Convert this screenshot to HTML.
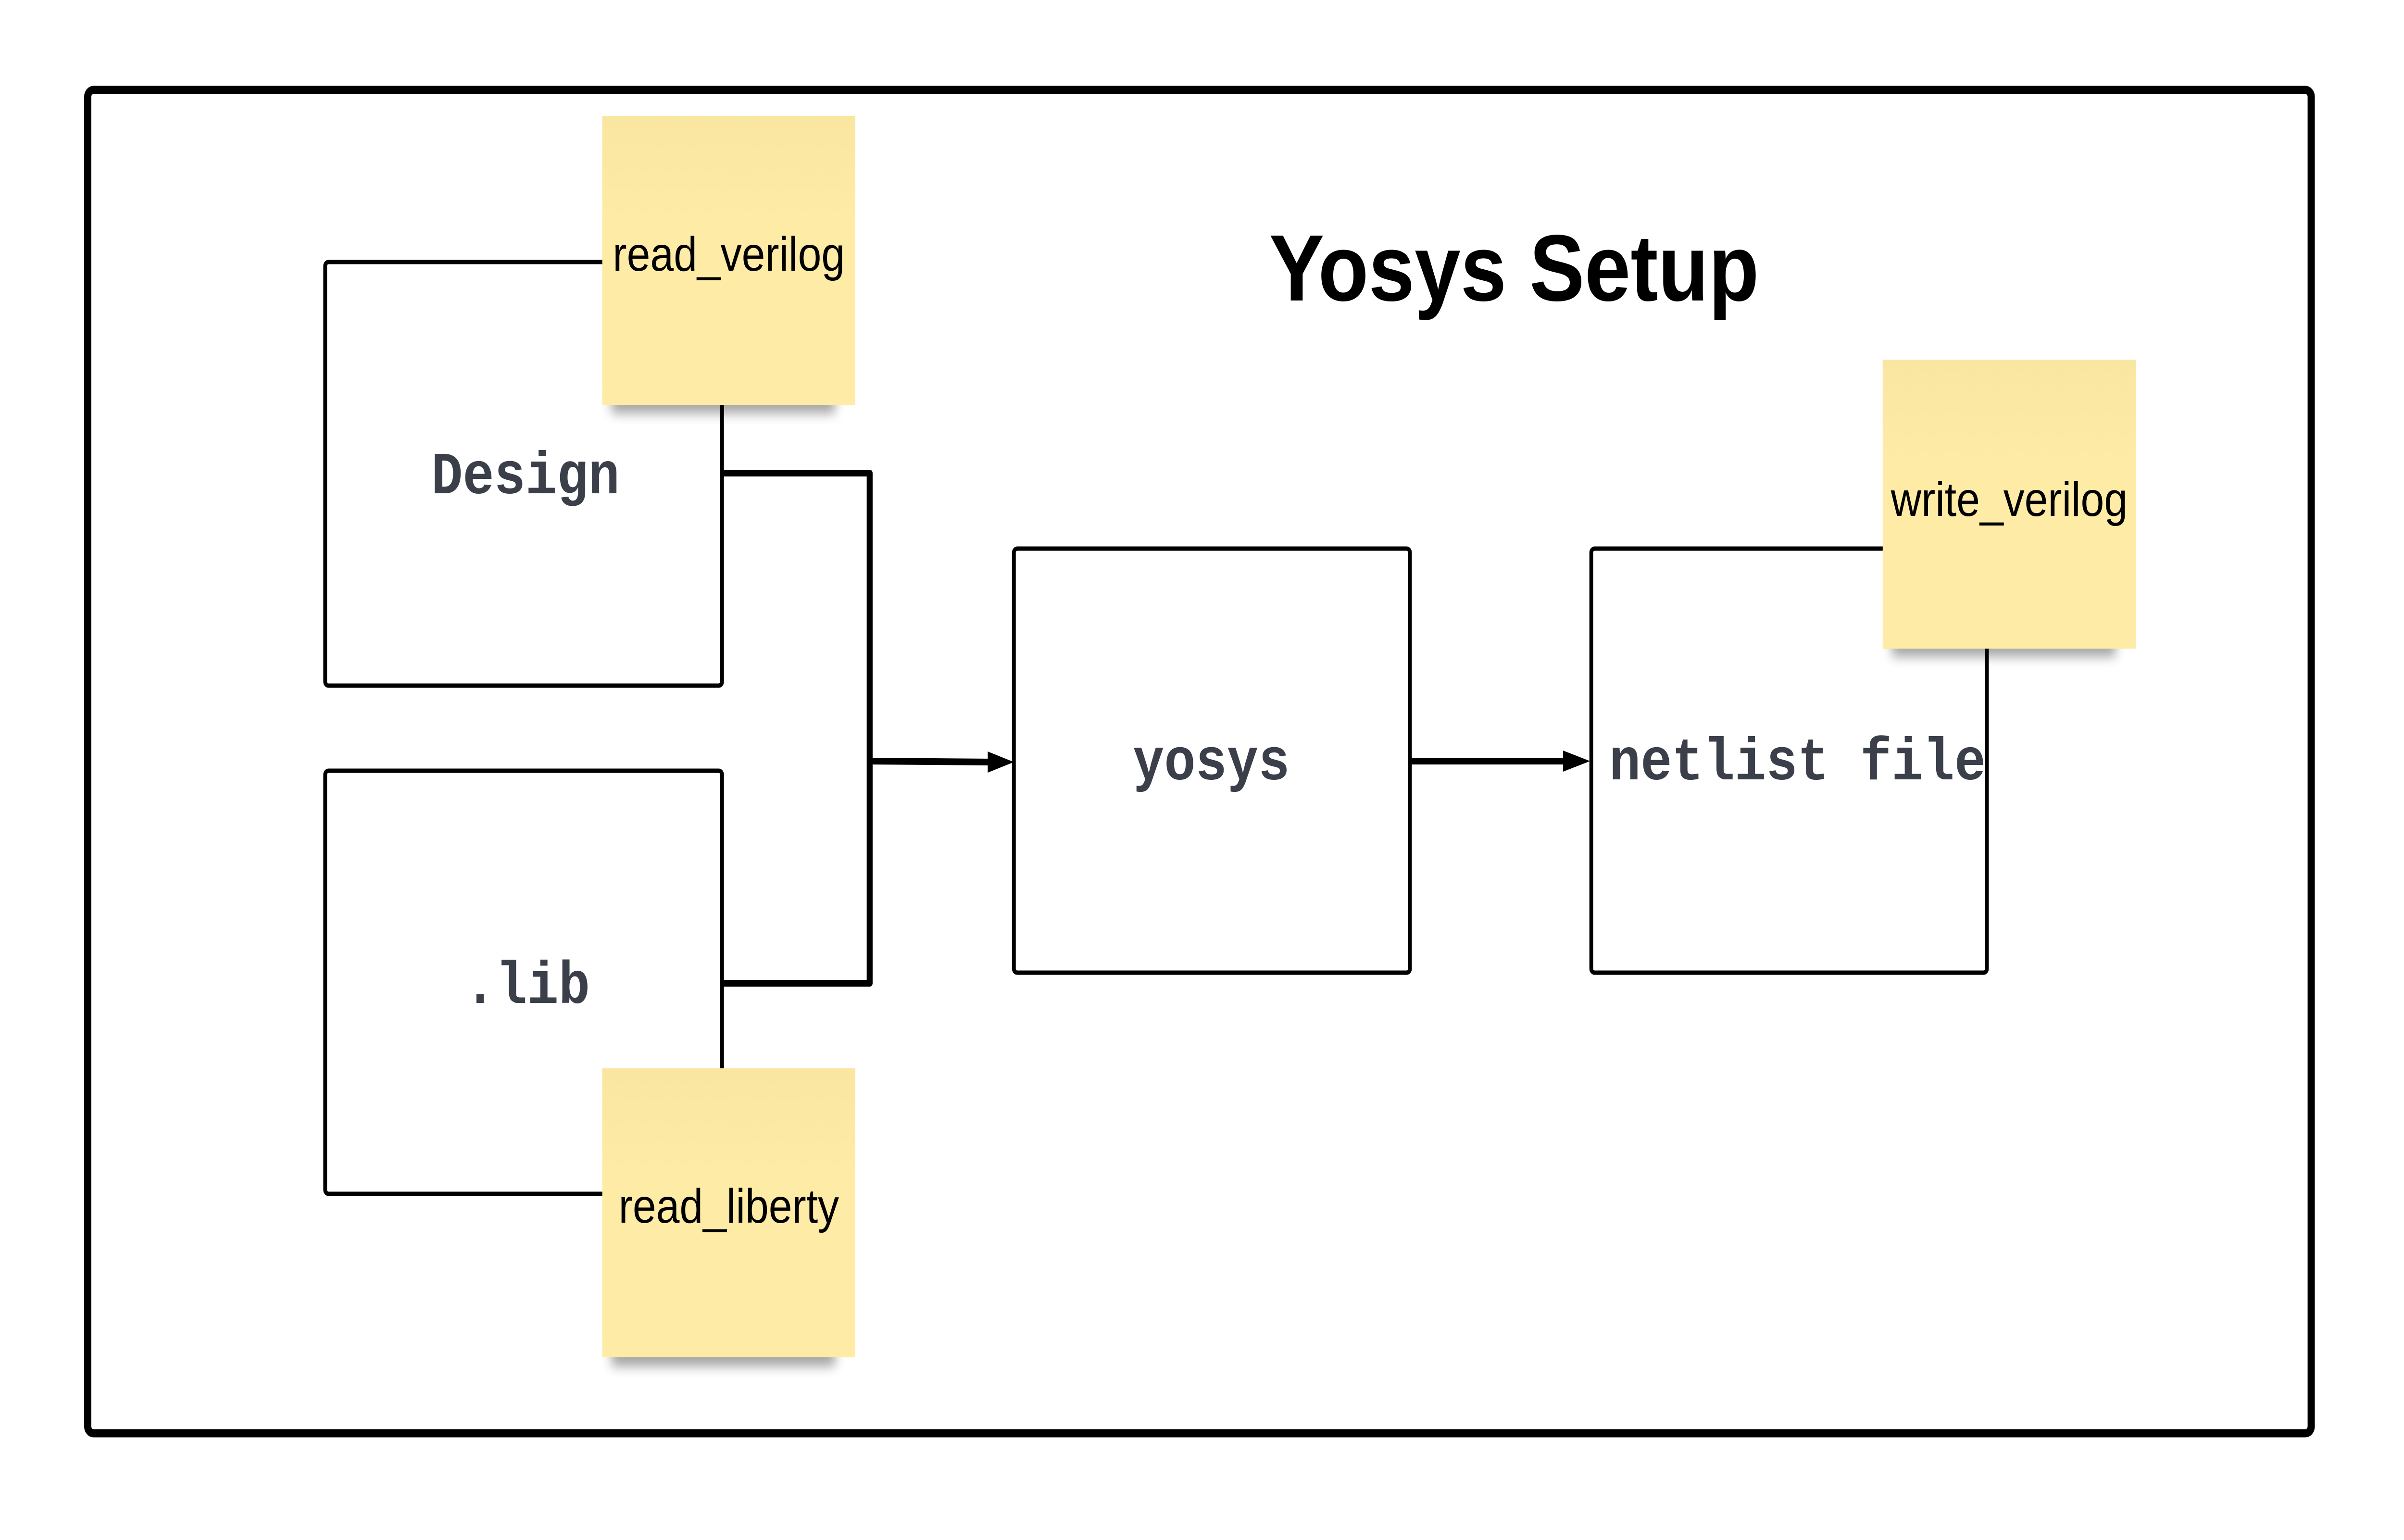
<!DOCTYPE html>
<html><head><meta charset="utf-8"><style>
html,body{margin:0;padding:0;background:#fff;width:100%;height:100%;overflow:hidden;}
svg{display:block;width:100vw;height:100vh;}
</style></head><body>
<svg viewBox="0 0 5700 3203" preserveAspectRatio="none" xmlns="http://www.w3.org/2000/svg">
<defs>
<linearGradient id="sg" x1="0" y1="0" x2="0" y2="1">
<stop offset="0" stop-color="#f9e6a0"/><stop offset="0.35" stop-color="#feeba6"/><stop offset="1" stop-color="#feeba6"/>
</linearGradient>
<filter id="bl" x="-20%" y="-50%" width="140%" height="200%"><feGaussianBlur stdDeviation="12"/></filter>
</defs>
<rect x="0" y="0" width="5700" height="3203" fill="#fff"/>
<rect x="208" y="187" width="5272" height="2794" rx="14" fill="none" stroke="#000" stroke-width="17"/>
<text x="3590" y="625" font-family="Liberation Sans, sans-serif" font-weight="bold" font-size="196" text-anchor="middle" fill="#000">Yosys Setup</text>
<g fill="none" stroke="#000" stroke-width="9">
<rect x="771" y="545" width="941" height="881" rx="8"/>
<rect x="771" y="1603" width="941" height="880" rx="8"/>
<rect x="2404" y="1141" width="939" height="882" rx="8"/>
<rect x="3773" y="1141" width="938" height="882" rx="8"/>
</g>
<g fill="none" stroke="#000" stroke-width="14" stroke-linejoin="round">
<polyline points="1712,984 2062,984 2062,2045 1712,2045"/>
<line x1="2062" y1="1583" x2="2350" y2="1585"/>
<line x1="3343" y1="1583" x2="3710" y2="1583"/>
</g>
<polygon points="2404,1585 2342,1563 2342,1607" fill="#000"/>
<polygon points="3770,1583 3706,1561 3706,1605" fill="#000"/>
<g font-family="Liberation Mono, DejaVu Sans Mono, monospace" font-weight="bold" font-size="124" fill="#3a3f4a" text-anchor="middle">
<text x="1246" y="1026">Design</text>
<text x="1250" y="2086">.lib</text>
<text x="2872" y="1621">yosys</text>
<text x="4262" y="1621">netlist file</text>
</g>
<g>
<rect x="1450" y="800" width="530" height="60" fill="#000" opacity="0.35" filter="url(#bl)"/>
<rect x="1428" y="241" width="600" height="601" fill="url(#sg)"/>
<rect x="1450" y="2782" width="530" height="60" fill="#000" opacity="0.35" filter="url(#bl)"/>
<rect x="1428" y="2222" width="600" height="601" fill="url(#sg)"/>
<rect x="4486" y="1306" width="530" height="60" fill="#000" opacity="0.35" filter="url(#bl)"/>
<rect x="4464" y="748" width="600" height="601" fill="url(#sg)"/>
</g>
<g font-family="Liberation Sans, sans-serif" font-size="100" fill="#000" text-anchor="middle">
<text x="1728" y="563">read_verilog</text>
<text x="1728" y="2543">read_liberty</text>
<text x="4764" y="1073">write_verilog</text>
</g>
</svg>
</body></html>
